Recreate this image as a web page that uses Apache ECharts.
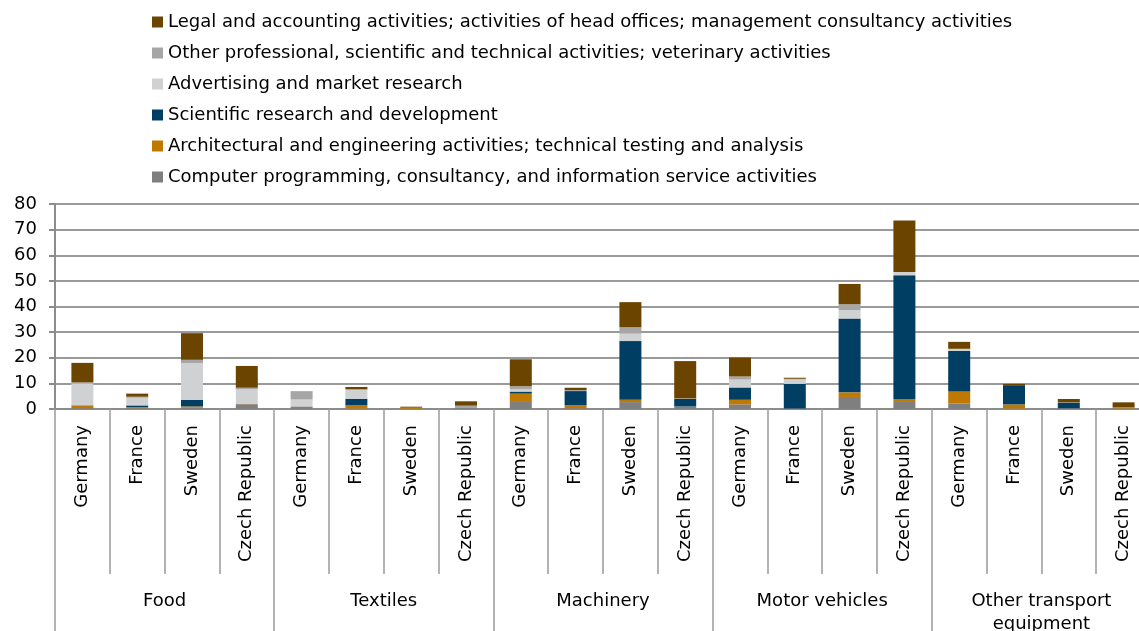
<!DOCTYPE html>
<html>
<head>
<meta charset="utf-8">
<title>Services content by industry and country</title>
<script src="https://cdn.jsdelivr.net/npm/echarts@6/dist/echarts.min.js"></script>
<style>
  html, body { margin: 0; padding: 0; background: #fff; }
  #chart { width: 1139px; height: 631px; }
</style>
</head>
<body>
<div id="chart"></div>
<script>
// categories: 5 industries x 4 countries
const industries = ['Food', 'Textiles', 'Machinery', 'Motor vehicles', 'Other transport\nequipment']
const countries = ['Germany', 'France', 'Sweden', 'Czech Republic']
const barLabels = industries.flatMap(() => countries)

// values, bottom of stack first
const computerProg = [0.3, 0.3, 0.5, 1.8, 1.0, 0.2, 0.1, 0.4, 3.1, 0.3, 2.7, 1.0, 1.8, 0.2, 4.7, 3.1, 2.1, 0.2, 0.3, 0.2]
const architectural = [0.9, 0.4, 0.5, 0.1, 0.0, 1.2, 0.3, 0.0, 2.9, 1.2, 0.9, 0.0, 1.8, 0.0, 1.8, 0.8, 4.7, 1.6, 0.0, 0.3]
const scientificRD = [0.2, 0.7, 2.6, 0.1, 0.0, 2.6, 0.0, 0.0, 0.8, 5.5, 22.9, 2.9, 4.8, 9.6, 28.8, 48.3, 15.9, 7.2, 2.2, 0.0]
const advertising = [8.6, 3.0, 14.3, 5.7, 2.7, 3.5, 0.1, 0.0, 0.9, 0.0, 2.9, 0.2, 3.1, 1.7, 3.3, 1.2, 0.8, 0.0, 0.1, 0.0]
const otherProf = [0.4, 0.4, 1.3, 0.6, 3.1, 0.2, 0.0, 0.9, 1.2, 0.4, 2.5, 0.0, 1.2, 0.3, 2.3, 0.1, 0.0, 0.0, 0.0, 0.1]
const legal = [7.6, 1.2, 10.4, 8.5, 0.1, 0.9, 0.4, 1.7, 10.5, 0.9, 9.8, 14.6, 7.4, 0.4, 7.9, 20.1, 2.7, 0.8, 1.3, 2.0]

const yTicks = [0, 10, 20, 30, 40, 50, 60, 70, 80]

const seriesDefs = [
  { name: 'Computer programming, consultancy, and information service activities', data: computerProg, color: '#7f7f7f' },
  { name: 'Architectural and engineering activities; technical testing and analysis', data: architectural, color: '#bf7800' },
  { name: 'Scientific research and development', data: scientificRD, color: '#003f63' },
  { name: 'Advertising and market research', data: advertising, color: '#d0d1d3' },
  { name: 'Other professional, scientific and technical activities; veterinary activities', data: otherProf, color: '#a6a6a6' },
  { name: 'Legal and accounting activities; activities of head offices; management consultancy activities', data: legal, color: '#6b4400' }
]

const font = 'DejaVu Sans, Liberation Sans, Arial, sans-serif'
const chart = echarts.init(document.getElementById('chart'))

const option = {
  animation: false,
  textStyle: { fontFamily: font },
  legend: {
    orient: 'vertical',
    left: 147,
    top: 8,
    itemWidth: 11,
    itemHeight: 11,
    itemGap: 13,
    icon: 'rect',
    // legend lists the top of the stack first
    data: seriesDefs.map(s => s.name).reverse(),
    textStyle: { fontSize: 18, color: '#000', fontFamily: font }
  },
  grid: { left: 55, top: 204, width: 1096, height: 205, outerBoundsMode: 'none' },
  xAxis: [
    {
      type: 'category',
      data: barLabels,
      axisLine: { lineStyle: { color: '#8c8c8c', width: 2 } },
      axisTick: { show: true, length: 165, lineStyle: { color: '#9a9a9a', width: 1.5 } },
      axisLabel: { rotate: 90, margin: 16, fontSize: 18, color: '#000', interval: 0 }
    },
    {
      type: 'category',
      position: 'bottom',
      data: industries,
      axisLine: { show: false },
      axisTick: { show: true, length: 222, lineStyle: { color: '#9a9a9a', width: 1.5 } },
      axisLabel: { margin: 181, fontSize: 18, color: '#000', interval: 0, lineHeight: 23 }
    }
  ],
  yAxis: {
    type: 'value',
    min: yTicks[0],
    max: yTicks[yTicks.length - 1],
    interval: 10,
    axisLine: { show: true, lineStyle: { color: '#8c8c8c', width: 2 } },
    axisTick: { show: true, length: 6, lineStyle: { color: '#8c8c8c', width: 2 } },
    axisLabel: { fontSize: 18, color: '#000', margin: 18 },
    splitLine: { lineStyle: { color: '#9a9a9a', width: 2 } }
  },
  series: seriesDefs.map(s => ({
    name: s.name,
    type: 'bar',
    stack: 'total',
    barWidth: 22,
    data: s.data,
    itemStyle: { color: s.color }
  }))
}

chart.setOption(option)
</script>
</body>
</html>
